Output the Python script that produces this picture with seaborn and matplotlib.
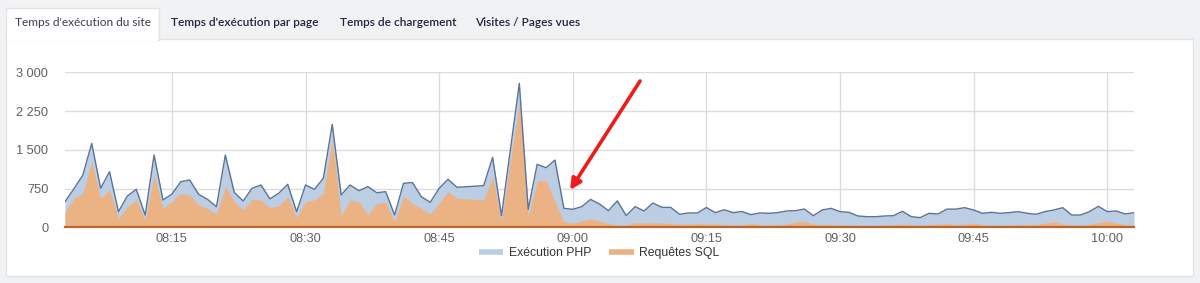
import numpy as np
import pandas as pd
import matplotlib
matplotlib.use("Agg")
import matplotlib.pyplot as plt
import matplotlib.dates as mdates
from matplotlib.patches import Rectangle
from matplotlib.lines import Line2D
from matplotlib.ticker import FuncFormatter
import seaborn as sns

# ---------------- data ----------------
times = [
    "08:03", "08:04", "08:05", "08:06", "08:07", "08:08", "08:09", "08:10", "08:11", "08:12",
    "08:13", "08:14", "08:15", "08:16", "08:17", "08:18", "08:19", "08:20", "08:21", "08:22",
    "08:23", "08:24", "08:25", "08:26", "08:27", "08:28", "08:29", "08:30", "08:31", "08:32",
    "08:33", "08:34", "08:35", "08:36", "08:37", "08:38", "08:39", "08:40", "08:41", "08:42",
    "08:43", "08:44", "08:45", "08:46", "08:47", "08:50", "08:51", "08:52", "08:54", "08:55",
    "08:56", "08:57", "08:58", "08:59", "09:00", "09:01", "09:02", "09:03", "09:04", "09:05",
    "09:06", "09:07", "09:08", "09:09", "09:10", "09:11", "09:12", "09:13", "09:14", "09:15",
    "09:16", "09:17", "09:18", "09:19", "09:20", "09:21", "09:22", "09:23", "09:24", "09:25",
    "09:26", "09:27", "09:28", "09:29", "09:30", "09:31", "09:32", "09:33", "09:34", "09:35",
    "09:36", "09:37", "09:38", "09:39", "09:40", "09:41", "09:42", "09:43", "09:44", "09:45",
    "09:46", "09:47", "09:48", "09:49", "09:50", "09:51", "09:52", "09:53", "09:54", "09:55",
    "09:56", "09:57", "09:58", "09:59", "10:00", "10:01", "10:02", "10:03",
]
php_exec = [
    495, 745, 1010, 1625, 755, 1076, 302, 606, 735, 238,
    1399, 528, 644, 883, 915, 638, 541, 399, 1399, 677,
    509, 755, 819, 550, 660, 832, 302, 819, 735, 948,
    1993, 625, 819, 709, 786, 670, 689, 238, 851, 867,
    593, 484, 755, 929, 774, 806, 1355, 225, 2786, 348,
    1219, 1154, 1302, 367, 348, 399, 540, 451, 322, 512,
    226, 400, 316, 470, 387, 384, 252, 278, 278, 383,
    284, 340, 284, 306, 245, 278, 271, 284, 316, 322,
    354, 225, 335, 367, 303, 290, 219, 206, 206, 219,
    225, 310, 206, 187, 271, 258, 352, 352, 380, 335,
    271, 290, 271, 284, 303, 271, 252, 303, 335, 380,
    238, 238, 303, 406, 303, 316, 258, 284,
]
sql_req = [
    290, 561, 658, 1270, 561, 722, 174, 400, 529, 142,
    1013, 368, 497, 658, 626, 432, 368, 252, 787, 497,
    335, 542, 529, 380, 415, 593, 190, 496, 529, 658,
    1690, 219, 529, 496, 238, 464, 477, 109, 606, 460,
    367, 257, 464, 689, 561, 529, 980, 109, 2431, 206,
    890, 915, 497, 110, 77, 125, 160, 120, 70, 45,
    40, 90, 80, 90, 80, 70, 60, 60, 70, 60,
    60, 50, 40, 50, 70, 50, 40, 50, 60, 100,
    115, 60, 50, 50, 40, 40, 35, 30, 30, 40,
    50, 60, 45, 40, 50, 60, 70, 50, 60, 75,
    50, 40, 40, 40, 50, 45, 50, 80, 110, 60,
    40, 40, 60, 90, 122, 80, 50, 40,
]
y_ticks = [0, 750, 1500, 2250, 3000]
series_names = ["Exécution PHP", "Requêtes SQL"]
tab_labels = ["Temps d'exécution du site", "Temps d'exécution par page",
              "Temps de chargement", "Visites / Pages vues"]

df = pd.DataFrame({
    "time": pd.to_datetime(["2024-01-01 " + t for t in times]),
    "php": php_exec,
    "sql": sql_req,
})

# ---------------- style ----------------
sns.set_theme(style="white")
plt.rcParams["font.family"] = ["Liberation Sans", "DejaVu Sans"]

W, H = 1200, 283
fig = plt.figure(figsize=(W / 100, H / 100), dpi=100)
fig.patch.set_facecolor("#f1f2f3")

def fx(px):
    return px / W

def fy(py):
    return 1 - py / H

# white panel
fig.patches.append(Rectangle((fx(6), fy(276)), fx(1193) - fx(6), fy(39) - fy(276),
                             transform=fig.transFigure, facecolor="white",
                             edgecolor="#e1e3e6", lw=1, zorder=-3))
# active tab
fig.patches.append(Rectangle((fx(6), fy(39.5)), fx(159) - fx(6), fy(8) - fy(39.5),
                             transform=fig.transFigure, facecolor="white",
                             edgecolor="#e1e3e6", lw=1, zorder=-2))
fig.patches.append(Rectangle((fx(7), fy(41)), fx(158) - fx(7), fy(37) - fy(41),
                             transform=fig.transFigure, facecolor="white",
                             edgecolor="none", zorder=-1))

tab_centers = [83, 245, 398, 528]
for i, (lab, cx) in enumerate(zip(tab_labels, tab_centers)):
    fig.text(fx(cx), fy(22.5), lab, ha="center", va="center",
             fontsize=8.6, family=["Lato", "DejaVu Sans"],
             weight="normal" if i == 0 else "semibold",
             color="#3a3f4a" if i == 0 else "#1d2540", zorder=3)

# ---------------- plot ----------------
ax = fig.add_axes([fx(65), fy(227.3), fx(1134) - fx(65), fy(72.3) - fy(227.3)])
ax.set_zorder(2)
ax.set_facecolor("white")

blue_fill = "#bccee3"
blue_line = "#5b7397"
orange_fill = "#ebb283"

ax.fill_between(df["time"], 0, df["php"], color=blue_fill, lw=0, zorder=1)
ax.fill_between(df["time"], 0, df["sql"], color=orange_fill, lw=0, zorder=2)
sns.lineplot(data=df, x="time", y="php", ax=ax, color=blue_line, lw=1.0, zorder=3)

ax.set_xlim(df["time"].iloc[0], df["time"].iloc[-1])
ax.set_ylim(0, 3000)
ax.set_yticks(y_ticks)
ax.yaxis.set_major_formatter(FuncFormatter(lambda v, p: f"{int(v):,}".replace(",", " ")))
ax.xaxis.set_major_locator(mdates.MinuteLocator(byminute=[0, 15, 30, 45]))
ax.xaxis.set_major_formatter(mdates.DateFormatter("%H:%M"))
ax.set_xlabel("")
ax.set_ylabel("")

ax.grid(True, color="#dcdcdc", lw=1)
ax.set_axisbelow(True)
for s in ["top", "right", "left"]:
    ax.spines[s].set_visible(False)
ax.spines["bottom"].set_color("#b9672c")
ax.spines["bottom"].set_linewidth(1.6)
ax.spines["bottom"].set_zorder(4)
ax.tick_params(axis="both", length=0, labelsize=9.2, labelcolor="#606060")
ax.tick_params(axis="y", pad=12)
ax.tick_params(axis="x", pad=4)

# red arrow annotation
tip = pd.Timestamp("2024-01-01 08:59:42")
tail = pd.Timestamp("2024-01-01 09:07:33")
ax.annotate("", xy=(tip, 722), xytext=(tail, 2831),
            arrowprops=dict(arrowstyle="-|>", color="#ec1c1c", lw=2.6,
                            mutation_scale=16, shrinkA=0, shrinkB=0),
            annotation_clip=False, zorder=6)

# legend
handles = [Line2D([0], [0], color=blue_fill, lw=4, solid_capstyle="butt"),
           Line2D([0], [0], color=orange_fill, lw=4, solid_capstyle="butt")]
fig.legend(handles, series_names, loc="center", bbox_to_anchor=(fx(599), fy(253)),
           ncol=2, frameon=False, fontsize=8.8, handlelength=2.0,
           handletextpad=0.45, columnspacing=1.5, labelcolor="#333333")

fig.savefig("out.png", dpi=100, facecolor=fig.get_facecolor())
